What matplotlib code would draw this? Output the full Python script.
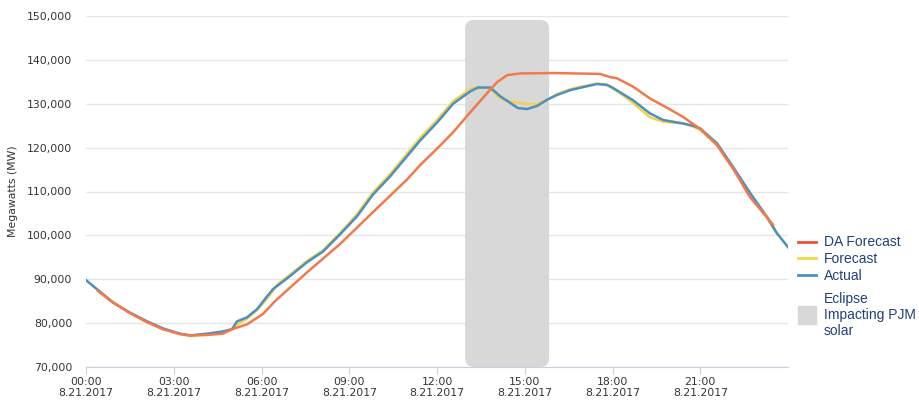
"""
PJM load on eclipse day (8.21.2017): actual vs forecasts.
"""

import matplotlib
matplotlib.use('Agg')
import matplotlib.pyplot as plt
from matplotlib.lines import Line2D
from matplotlib.patches import FancyBboxPatch
from matplotlib.ticker import FuncFormatter

# hours since midnight, load in MW
actual_hours = [0.0, 0.38, 0.92, 1.5, 2.09, 2.63, 3.21, 3.56, 4.14, 4.68, 4.99, 5.16,
                5.5, 5.85, 6.19, 6.4, 6.56, 6.97, 7.56, 8.1, 8.68, 9.26, 9.81, 10.39,
                10.97, 11.42, 12.0, 12.55, 13.13, 13.4, 13.82, 14.16, 14.5, 14.77,
                15.08, 15.42, 15.76, 16.1, 16.55, 17.0, 17.47, 17.81, 18.02, 18.26,
                18.7, 19.28, 19.73, 20.41, 20.75, 20.99, 21.57, 22.12, 22.7, 23.28,
                23.62, 24.0]
actual_mw = [89800, 87700, 84700, 82400, 80400, 78800, 77600, 77200, 77600, 78100,
             78600, 80400, 81300, 83200, 86100, 87800, 88600, 90700, 93900, 96300,
             100200, 104300, 109300, 113400, 118000, 121600, 125700, 130000, 132800,
             133700, 133700, 131700, 130200, 129000, 128800, 129500, 130900, 132000,
             133100, 133800, 134500, 134300, 133600, 132600, 130800, 127800, 126300,
             125500, 125000, 124400, 121000, 115600, 109700, 104200, 100500, 97300]

forecast_hours = [0.45, 0.92, 1.5, 2.09, 2.63, 3.21, 3.56, 4.14, 4.68, 5.0, 5.2, 5.5,
                  5.85, 6.19, 6.56, 6.97, 7.56, 8.1, 8.68, 9.26, 9.81, 10.39, 10.97,
                  11.42, 12.0, 12.55, 13.13, 13.4, 13.82, 14.16, 14.5, 14.77, 15.08,
                  15.42, 15.76, 16.1, 16.55, 17.0, 17.47, 17.81, 18.02, 18.26, 18.7,
                  19.28, 19.73, 20.41, 20.75, 20.99, 21.57, 22.12, 22.7, 23.28, 23.62]
forecast_mw = [87300, 84800, 82300, 80200, 78700, 77500, 77100, 77400, 78000, 78700,
               79800, 81000, 83000, 85600, 88900, 91000, 94200, 96600, 100500, 104800,
               109800, 113900, 118600, 122200, 126300, 130600, 133300, 133800, 133500,
               131200, 130500, 130200, 129900, 130000, 130900, 132200, 133300, 134000,
               134600, 134300, 133400, 132400, 130200, 126900, 125900, 125500, 124800,
               124100, 120600, 115300, 109500, 104000, 100400]

da_hours = [0.41, 0.92, 1.5, 2.09, 2.63, 3.21, 3.56, 4.14, 4.68, 4.99, 5.5, 6.05,
            6.46, 7.56, 8.68, 9.81, 10.97, 11.42, 12.05, 12.55, 13.13, 13.71, 14.05,
            14.39, 14.83, 15.97, 17.57, 17.91, 18.15, 18.7, 19.28, 19.86, 20.41,
            20.99, 21.57, 22.12, 22.7, 23.28, 23.49]
da_mw = [87300, 84700, 82300, 80200, 78600, 77500, 77200, 77300, 77600, 78600, 79700,
         82100, 85000, 91600, 98000, 105300, 112700, 116000, 120100, 123500, 128000,
         132400, 134900, 136500, 136900, 137000, 136800, 136100, 135800, 133900,
         131200, 129100, 127000, 124300, 120600, 115200, 108700, 104100, 102400]

# eclipse window (hours) and top of the shaded band (MW)
eclipse_start, eclipse_end = 12.96, 15.83
eclipse_top = 149100

tick_hours = [0, 3, 6, 9, 12, 15, 18, 21]
tick_labels = [f'{h:02d}:00\n8.21.2017' for h in tick_hours]

fig = plt.figure(figsize=(9.19, 4.0), dpi=100)
ax = fig.add_axes([0.0936, 0.0825, 0.7639, 0.8775])
ax.set_xlim(0, 24)
ax.set_ylim(70000, 150000)

# rounded band; aspect converts y data units to x data units on screen
ax_w = 0.7639 * 919
ax_h = 0.8775 * 400
aspect = (80000 / ax_h) / (24 / ax_w)
band = FancyBboxPatch((eclipse_start, 70000), eclipse_end - eclipse_start,
                      eclipse_top - 70000,
                      boxstyle='round,pad=0,rounding_size=0.3',
                      mutation_aspect=aspect, facecolor='#d8d8d8',
                      edgecolor='none', zorder=1)
ax.add_patch(band)

ax.plot(forecast_hours, forecast_mw, color='#f3d34a', lw=1.8, zorder=3)
ax.plot(actual_hours, actual_mw, color='#4f8fbf', lw=1.8, zorder=4)
ax.plot(da_hours, da_mw, color='#f07a4e', lw=1.8, zorder=5)

ax.set_yticks(range(70000, 150001, 10000))
ax.yaxis.set_major_formatter(FuncFormatter(lambda v, p: f'{int(v):,}'))
ax.set_xticks(tick_hours)
ax.set_xticklabels(tick_labels)
ax.tick_params(axis='y', length=0, labelsize=7.8, labelcolor='#333333', pad=10)
ax.tick_params(axis='x', length=5, color='#c8d0e0', labelsize=7.8,
               labelcolor='#333333', pad=2)
ax.grid(True, axis='y', color='#e6e6e6', lw=1, zorder=0)
ax.set_axisbelow(True)
for side in ['top', 'right', 'left']:
    ax.spines[side].set_visible(False)
ax.spines['bottom'].set_color('#c8d0e0')
ax.set_ylabel('Megawatts (MW)', fontsize=7.8, color='#333333', labelpad=6)

legend_font = {'family': 'Liberation Sans', 'size': 10}

line_handles = [
    Line2D([], [], color='#e8553a', lw=2),
    Line2D([], [], color='#f3d34a', lw=2),
    Line2D([], [], color='#4f8fbf', lw=2),
]
leg1 = fig.legend(line_handles, ['DA Forecast', 'Forecast', 'Actual'],
                  loc='upper left', bbox_to_anchor=(0.855, 0.4425), frameon=False,
                  handlelength=1.3, handletextpad=0.55, labelspacing=0.2,
                  prop=legend_font)

band_handle = Line2D([], [], marker='s', markersize=12.5, color='#d8d8d8', lw=0)
leg2 = fig.legend([band_handle], ['Eclipse\nImpacting PJM\nsolar'],
                  loc='upper left', bbox_to_anchor=(0.855, 0.3025), frameon=False,
                  handlelength=1.3, handletextpad=0.55, prop=legend_font)

for leg in (leg1, leg2):
    for txt in leg.get_texts():
        txt.set_color('#23407a')
        txt.set_linespacing(1.2)

plt.savefig('out.png', dpi=100)
plt.close()
